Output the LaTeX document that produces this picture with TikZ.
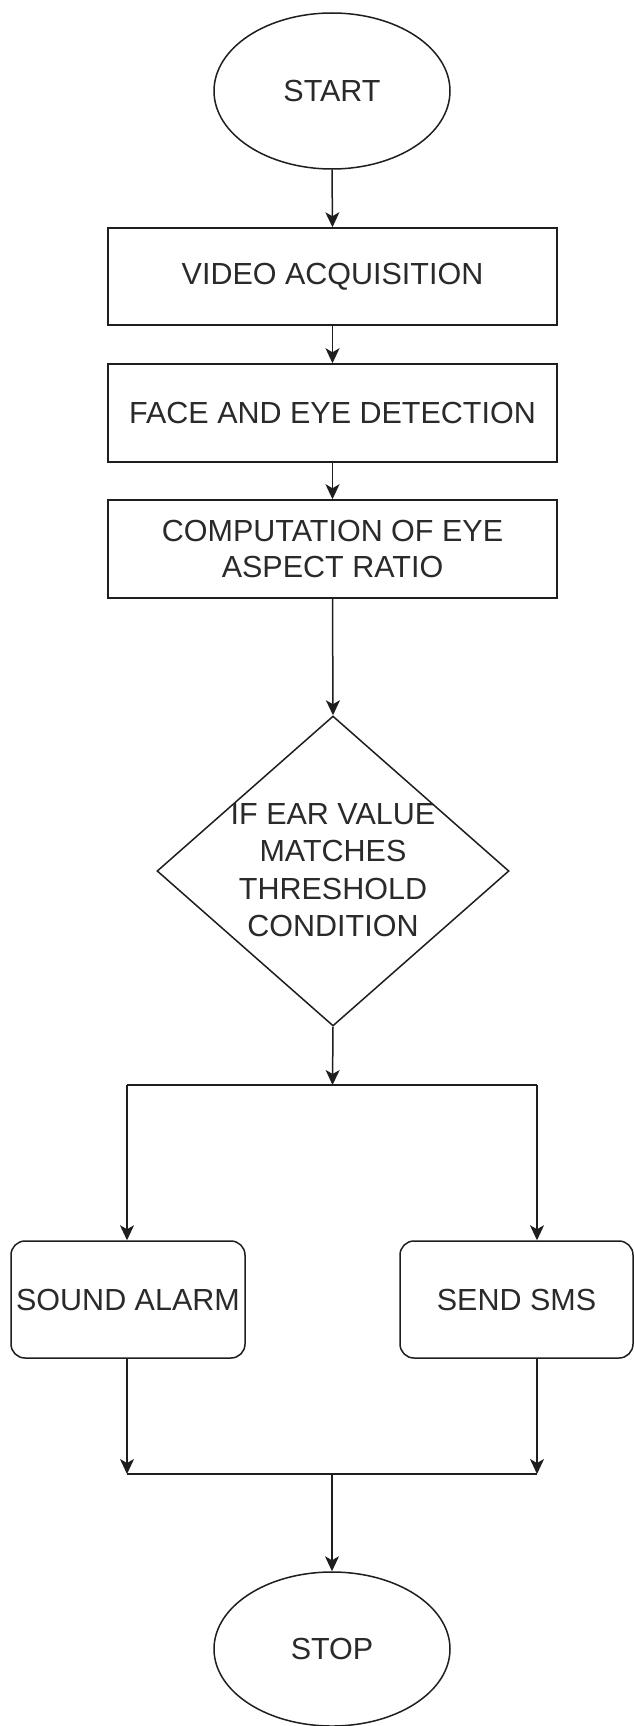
\documentclass[tikz,border=0pt]{standalone}
\usepackage{fontspec}
\setmainfont{Liberation Sans}
\usetikzlibrary{shapes.geometric,arrows.meta}
\definecolor{ink}{HTML}{1E1E1E}
\definecolor{txt}{HTML}{2A2A2A}
\begin{document}
\begin{tikzpicture}[x=1pt,y=-1pt,
  every node/.style={font=\fontsize{30.5}{36}\selectfont, text=txt},
  shp/.style={draw=ink, line width=1.5pt, inner sep=0pt},
  procbox/.style={shp, rectangle, minimum width=449pt, minimum height=97pt, align=center},
  roundbox/.style={shp, rectangle, rounded corners=14pt, minimum width=234pt, minimum height=117pt},
  term/.style={shp, ellipse, minimum width=236pt, minimum height=156pt},
  conn/.style={draw=ink, line width=1.5pt},
  arr/.style={conn, -{Stealth[length=15pt,width=14pt,inset=4pt]}}
]
\useasboundingbox (0,0) rectangle (634,1726);
\fill[white] (0,0) rectangle (634,1726);

\node[term] (start) at (332,91) {START};
\node[procbox] (video) at (332.5,276.5) {VIDEO ACQUISITION};
\node[procbox, minimum height=98pt] (face) at (332.5,413) {FACE AND EYE DETECTION};
\node[procbox, minimum height=98pt] (comp) at (332.5,549) {COMPUTATION OF EYE\\ASPECT RATIO};
\node[shp, diamond, minimum width=352pt, minimum height=310pt] (dec) at (333,871) {};
\node[align=center, text=txt, font=\fontsize{30.5}{37.5}\selectfont] (dectext) at (333,870) {IF EAR VALUE\\MATCHES\\THRESHOLD\\CONDITION};
\node[roundbox] (alarm) at (128,1299.5) {SOUND ALARM};
\node[roundbox, minimum width=233pt] (sms) at (516.5,1299.5) {SEND SMS};
\node[term, minimum height=154pt] (stop) at (332,1649) {STOP};

\coordinate (j1) at (332.5,1085);
\coordinate (bl) at (127,1085);
\coordinate (br) at (537,1085);
\coordinate (j2) at (332,1474);
\coordinate (ml) at (127,1474);
\coordinate (mr) at (537,1474);

\draw[arr] (start.south) -- (video.north);
\draw[arr] (video.south) -- (face.north);
\draw[arr] (face.south) -- (comp.north);
\draw[arr] (comp.south) -- (dec.north);
\draw[arr] (dec.south) -- (j1);
\draw[conn] (bl) -- (br);
\draw[arr] (bl) -- (alarm.north -| bl);
\draw[arr] (br) -- (sms.north -| br);
\draw[arr] (alarm.south -| ml) -- (ml);
\draw[arr] (sms.south -| mr) -- (mr);
\draw[conn] (ml) -- (mr);
\draw[arr] (j2) -- (stop.north);
\end{tikzpicture}
\end{document}
